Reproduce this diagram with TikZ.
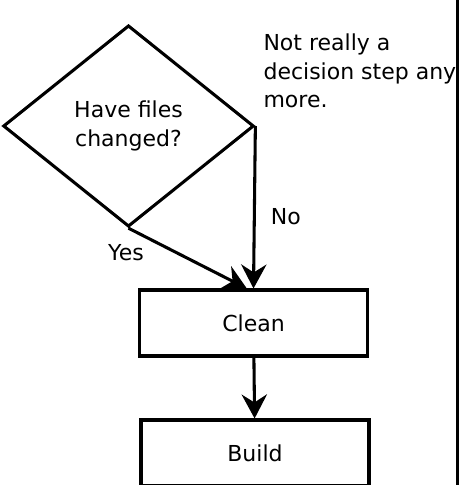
\documentclass[tikz,border=0pt]{standalone}
\usepackage{fontspec}
\setmainfont{DejaVu Sans}
\usetikzlibrary{arrows.meta,shapes.geometric}

\begin{document}
\begin{tikzpicture}[x=0.75pt,y=-0.75pt,line width=2.3pt,
  >={Stealth[length=18pt,width=19pt,inset=6pt]},
  every node/.style={font=\fontsize{16.5}{21.5}\selectfont},
  decision/.style={draw,shape=diamond,aspect=1.24,inner sep=0pt,
    minimum width=188pt,minimum height=151pt,align=center},
  stepbox/.style={draw,inner sep=0pt,minimum width=171pt,minimum height=49.5pt}]
  \useasboundingbox (0,0) rectangle (460,485);
  % flow
  \node[decision] (changed) at (128.5,126) {Have files\\changed?};
  \node[stepbox] (clean) at (253.5,323) {Clean};
  \node[stepbox] (build) at (255,453) {Build};
  % remark
  \node[anchor=base west,inner sep=0pt,align=left] (remark) at (262,108)
    {Not really a\\decision step any\\more.};
  \draw[->] (changed.east) -- (clean.north) node[pos=.56,right=8pt] (lblno) {No};
  \draw[->] (changed.south) -- ([xshift=-5pt]clean.north);
  \node (lblyes) at (126,253) {Yes};
  \draw[->] (clean) -- (build);
  % frame edge
  \draw (457.5,0) -- (457.5,485);
\end{tikzpicture}
\end{document}
